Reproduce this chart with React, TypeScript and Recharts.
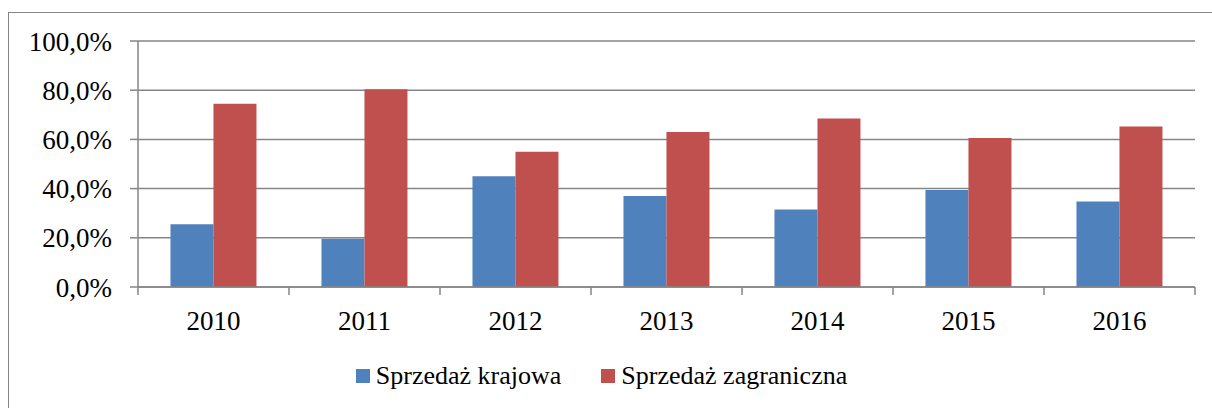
import { Bar, BarChart, CartesianGrid, Legend, XAxis, YAxis } from 'recharts';

const years = ['2010', '2011', '2012', '2013', '2014', '2015', '2016'];
const domesticSales = [25.5, 19.6, 45.0, 37.0, 31.5, 39.4, 34.8];
const foreignSales = [74.5, 80.4, 55.0, 63.0, 68.5, 60.6, 65.2];
const yTicks = [0, 20, 40, 60, 80, 100];
const seriesNames = ['Sprzedaż krajowa', 'Sprzedaż zagraniczna'];

const BLUE = '#4f81bd';
const RED = '#c0504d';
const AXIS_GRAY = '#868686';
const FONT = '"Liberation Serif", "Times New Roman", serif';

const data = years.map((year, i) => ({
  year,
  domestic: domesticSales[i],
  foreign: foreignSales[i],
}));

const formatPercent = (v: number) => `${v.toFixed(1).replace('.', ',')}%`;

// Excel style: tick marks sit between categories, labels in the middle
function YearTick(props: any) {
  const { x, y, payload, index } = props;
  const half = payload?.offset ?? 0;
  return (
    <g>
      {index === 0 && half > 0 && (
        <line x1={x - half} x2={x - half} y1={y} y2={y + 8} stroke={AXIS_GRAY} strokeWidth={1.5} />
      )}
      {half > 0 && (
        <line x1={x + half} x2={x + half} y1={y} y2={y + 8} stroke={AXIS_GRAY} strokeWidth={1.5} />
      )}
      <text x={x} y={y + 43} textAnchor="middle" fill="#000" fontSize={27} fontFamily={FONT}>
        {payload.value}
      </text>
    </g>
  );
}

function LegendRow(props: any) {
  const items = props.payload ?? [];
  return (
    <div
      style={{
        height: 30,
        display: 'flex',
        alignItems: 'center',
        justifyContent: 'center',
        paddingRight: 9,
        fontFamily: FONT,
        fontSize: 26,
        lineHeight: '30px',
        color: '#000',
      }}
    >
      {items.map((item: any, i: number) => (
        <div key={item.value} style={{ display: 'flex', alignItems: 'center', marginLeft: i === 0 ? 0 : 40 }}>
          <span style={{ width: 14, height: 14, background: item.color, marginRight: 6, display: 'inline-block' }} />
          <span>{item.value}</span>
        </div>
      ))}
    </div>
  );
}

export default function App() {
  return (
    <div
      style={{
        position: 'absolute',
        left: 0,
        top: 0,
        width: 1212,
        height: 408,
        overflow: 'hidden',
        background: '#fff',
      }}
    >
      <div
        style={{
          position: 'absolute',
          left: 8,
          top: 12,
          width: 1300,
          height: 500,
          border: `1px solid ${AXIS_GRAY}`,
        }}
      />
      <div style={{ position: 'absolute', left: 0, top: 0 }}>
        <BarChart
          width={1212}
          height={408}
          data={data}
          margin={{ top: 41, right: 17, left: 8, bottom: 17 }}
          barCategoryGap="21.5%"
          barGap={0}
          style={{ fontFamily: FONT }}
        >
          <CartesianGrid vertical={false} stroke={AXIS_GRAY} strokeWidth={1.5} />
          <XAxis
            dataKey="year"
            height={74}
            tickSize={0}
            tickMargin={0}
            tickLine={false}
            axisLine={{ stroke: AXIS_GRAY, strokeWidth: 1.5 }}
            tick={<YearTick />}
            interval={0}
          />
          <YAxis
            width={130}
            domain={[0, 100]}
            ticks={yTicks}
            tickFormatter={formatPercent}
            tickSize={8}
            tickMargin={18}
            tickLine={{ stroke: AXIS_GRAY, strokeWidth: 1.5 }}
            axisLine={{ stroke: AXIS_GRAY, strokeWidth: 1.5 }}
            tick={{ fill: '#000', fontSize: 27, fontFamily: FONT }}
          />
          <Legend
            verticalAlign="bottom"
            height={30}
            content={<LegendRow />}
            wrapperStyle={{ left: 0, width: 1212 }}
          />
          <Bar dataKey="domestic" name={seriesNames[0]} fill={BLUE} isAnimationActive={false} />
          <Bar dataKey="foreign" name={seriesNames[1]} fill={RED} isAnimationActive={false} />
        </BarChart>
      </div>
    </div>
  );
}
